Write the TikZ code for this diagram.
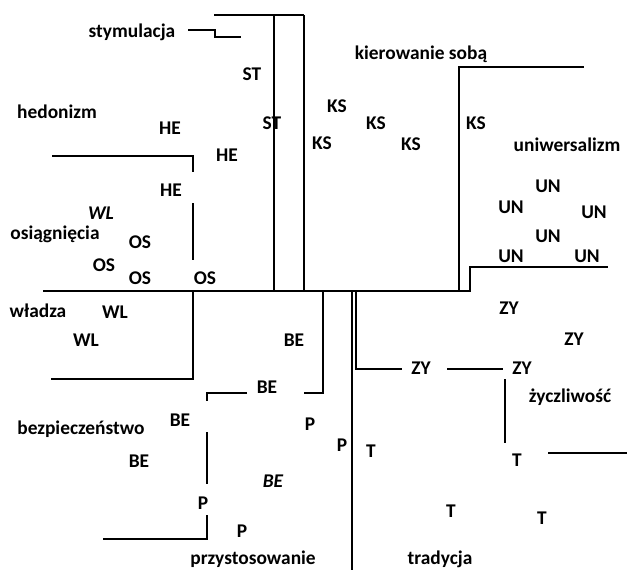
\documentclass[tikz,border=0pt]{standalone}
\usepackage{fontspec}
\setmainfont{Carlito}
\begin{document}
\begin{tikzpicture}[
    x=1pt, y=-1pt,
    lbl/.style={font=\fontsize{19.4}{22}\selectfont\bfseries, inner sep=0pt},
    ital/.style={lbl, font=\fontsize{19.4}{22}\selectfont\bfseries\itshape},
    wall/.style={draw, line width=1.2pt}
  ]
    \useasboundingbox (0,0) rectangle (627,570);

    % Value names
    \node[lbl] at (132,32)  (stym) {stymulacja};
    \node[lbl] at (57,112)  (hedo) {hedonizm};
    \node[lbl] at (55,234)  (osia) {osiągnięcia};
    \node[lbl] at (421,54)  (kier) {kierowanie sobą};
    \node[lbl] at (567,145) (uniw) {uniwersalizm};
    \node[lbl] at (38,311)  (wlad) {władza};
    \node[lbl] at (81,429)  (bezp) {bezpieczeństwo};
    \node[lbl] at (253,559) (przy) {przystosowanie};
    \node[lbl] at (570,397) (zycz) {życzliwość};
    \node[lbl] at (440,559) (trad) {tradycja};

    % Items
    \node[lbl] at (252,74)  (st1) {ST};
    \node[lbl] at (272,123) (st2) {ST};
    \node[lbl] at (170,128) (he1) {HE};
    \node[lbl] at (227,155) (he2) {HE};
    \node[lbl] at (171,190) (he3) {HE};
    \node[ital] at (101,213) (wlit) {WL};
    \node[lbl] at (140,242) (os1) {OS};
    \node[lbl] at (104,265) (os2) {OS};
    \node[lbl] at (140,278) (os3) {OS};
    \node[lbl] at (205,278) (os4) {OS};
    \node[lbl] at (337,106) (ks1) {KS};
    \node[lbl] at (376,123) (ks2) {KS};
    \node[lbl] at (322,143) (ks3) {KS};
    \node[lbl] at (411,144) (ks4) {KS};
    \node[lbl] at (476,123) (ks5) {KS};
    \node[lbl] at (548,186) (un1) {UN};
    \node[lbl] at (511,207) (un2) {UN};
    \node[lbl] at (594,212) (un3) {UN};
    \node[lbl] at (548,236) (un4) {UN};
    \node[lbl] at (511,256) (un5) {UN};
    \node[lbl] at (587,256) (un6) {UN};
    \node[lbl] at (115,312) (wl1) {WL};
    \node[lbl] at (86,340)  (wl2) {WL};
    \node[lbl] at (294,340) (be1) {BE};
    \node[lbl] at (267,387) (be2) {BE};
    \node[lbl] at (180,420) (be3) {BE};
    \node[lbl] at (139,461) (be4) {BE};
    \node[ital] at (273,481) (be5) {BE};
    \node[lbl] at (310,424) (p1) {P};
    \node[lbl] at (342,445) (p2) {P};
    \node[lbl] at (203,503) (p3) {P};
    \node[lbl] at (242,531) (p4) {P};
    \node[lbl] at (509,308) (zy1) {ZY};
    \node[lbl] at (574,339) (zy2) {ZY};
    \node[lbl] at (421,368) (zy3) {ZY};
    \node[lbl] at (522,368) (zy4) {ZY};
    \node[lbl] at (371,451) (t1) {T};
    \node[lbl] at (517,460) (t2) {T};
    \node[lbl] at (451,511) (t3) {T};
    \node[lbl] at (542,518) (t4) {T};

    % Borders
    \draw[wall] (214,15) -- (304,15);
    \draw[wall] (274,15) -- (274,291);
    \draw[wall] (304,15) -- (304,291);
    \draw[wall] (188,30) -- (215,30) -- (215,37) -- (241,37);
    \draw[wall] (43,291) -- (459,291) -- (459,67) -- (584,67);
    \draw[wall] (459,291) -- (470,291) -- (470,267) -- (608,267);
    \draw[wall] (52,156) -- (193,156) -- (193,172);
    \draw[wall] (193,203) -- (193,260);
    \draw[wall] (193,291) -- (193,379) -- (51,379);
    \draw[wall] (323,291) -- (323,393) -- (304,393);
    \draw[wall] (247,393) -- (207,393) -- (207,401);
    \draw[wall] (207,432) -- (207,484);
    \draw[wall] (207,515) -- (207,539) -- (103,539);
    \draw[wall] (352,291) -- (352,570);
    \draw[wall] (356,291) -- (356,369) -- (402,369);
    \draw[wall] (447,369) -- (503,369);
    \draw[wall] (505,379) -- (505,443);
    \draw[wall] (548,453) -- (627,453);

  \end{tikzpicture}
\end{document}
